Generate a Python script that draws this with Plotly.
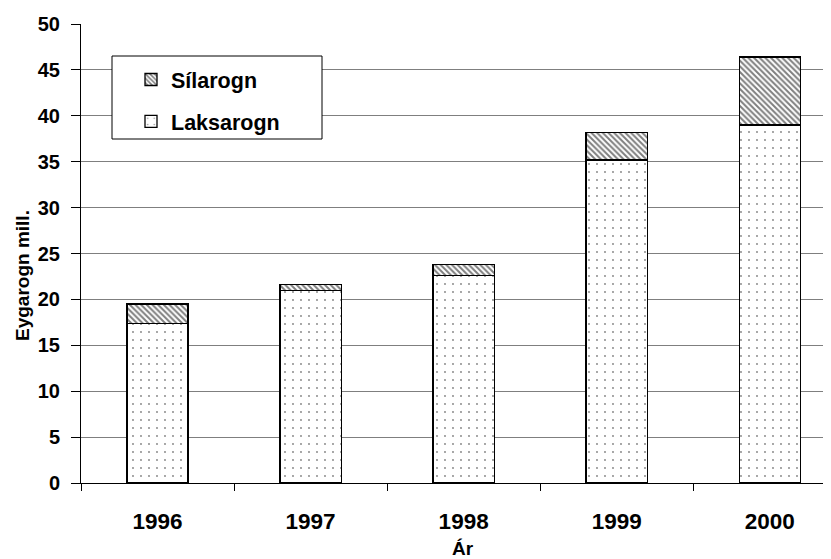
import plotly.graph_objects as go

years = ["1996", "1997", "1998", "1999", "2000"]
laksarogn = [17.4, 21.0, 22.6, 35.2, 39.0]
silarogn = [2.1, 0.6, 1.2, 3.0, 7.4]
yticks = [0, 5, 10, 15, 20, 25, 30, 35, 40, 45, 50]

FAM = "Liberation Sans, Arial, sans-serif"
XFONT = dict(family=FAM, size=22.5, color="black", weight=700)
YFONT = dict(family=FAM, size=20, color="black", weight=700)
LFONT = dict(family=FAM, size=21.5, color="black", weight=700)
TFONT = dict(family=FAM, size=19, color="black", weight=700)

fig = go.Figure()
fig.add_trace(go.Bar(
    x=years, y=laksarogn, name="Laksarogn", legendgroup="a", legendrank=2,
    marker=dict(color="white", line=dict(color="black", width=1.3),
                pattern=dict(shape=".", fgcolor="black", bgcolor="white", size=8, solidity=0.04)),
))
fig.add_trace(go.Bar(
    x=years, y=silarogn, name="Sílarogn", legendgroup="b", legendrank=1,
    marker=dict(color="white", line=dict(color="black", width=1.3),
                pattern=dict(shape="\\", fgcolor="black", bgcolor="white", size=4, solidity=0.5)),
))

# page is offset by the body's 8px margin
OFF = 8
W, H = 831 - OFF, 559 - OFF
PL, PT, PB, PR = 81, 24, 483, 831   # plot area in page pixels
PW, PH = PR - PL, PB - PT


def px(x):
    return (x - PL) / PW


def py(y):
    return (PB - y) / PH


fig.update_layout(
    width=W, height=H,
    barmode="stack", bargap=0.6,
    margin=dict(l=PL - OFF, r=0, t=PT - OFF, b=H - (PB - OFF), autoexpand=False),
    paper_bgcolor="white", plot_bgcolor="white",
    font=XFONT,
    showlegend=True,
    legend=dict(x=px(131), y=py(59), xanchor="left", yanchor="top",
                bgcolor="rgba(0,0,0,0)", borderwidth=0,
                traceorder="grouped", tracegroupgap=11,
                font=LFONT),
    xaxis=dict(type="category", range=[-0.5, 4.4], showline=True, linecolor="black", linewidth=1,
               ticks="outside", tickson="boundaries", ticklen=7, tickcolor="black",
               showgrid=False, ticklabelstandoff=18, tickfont=XFONT, automargin=False),
    yaxis=dict(range=[0, 50], tickvals=yticks, showline=True, linecolor="black", linewidth=1,
               ticks="outside", ticklen=9, tickcolor="black",
               showgrid=True, gridcolor="#7f7f7f", gridwidth=1, zeroline=False,
               tickfont=YFONT, ticklabelstandoff=7, automargin=False),
    shapes=[dict(type="rect", xref="paper", yref="paper",
                 x0=px(112), x1=px(322), y0=py(139), y1=py(56),
                 fillcolor="white", line=dict(color="black", width=1), layer="above")],
    annotations=[
        dict(text="Eygarogn mill.", textangle=-90, x=px(22), y=py(276),
             xref="paper", yref="paper", xanchor="center", yanchor="middle",
             showarrow=False, font=TFONT),
        dict(text="Ár", x=px(463), y=py(548),
             xref="paper", yref="paper", xanchor="center", yanchor="middle",
             showarrow=False, font=TFONT),
    ],
)

fig.write_html("out.html")
